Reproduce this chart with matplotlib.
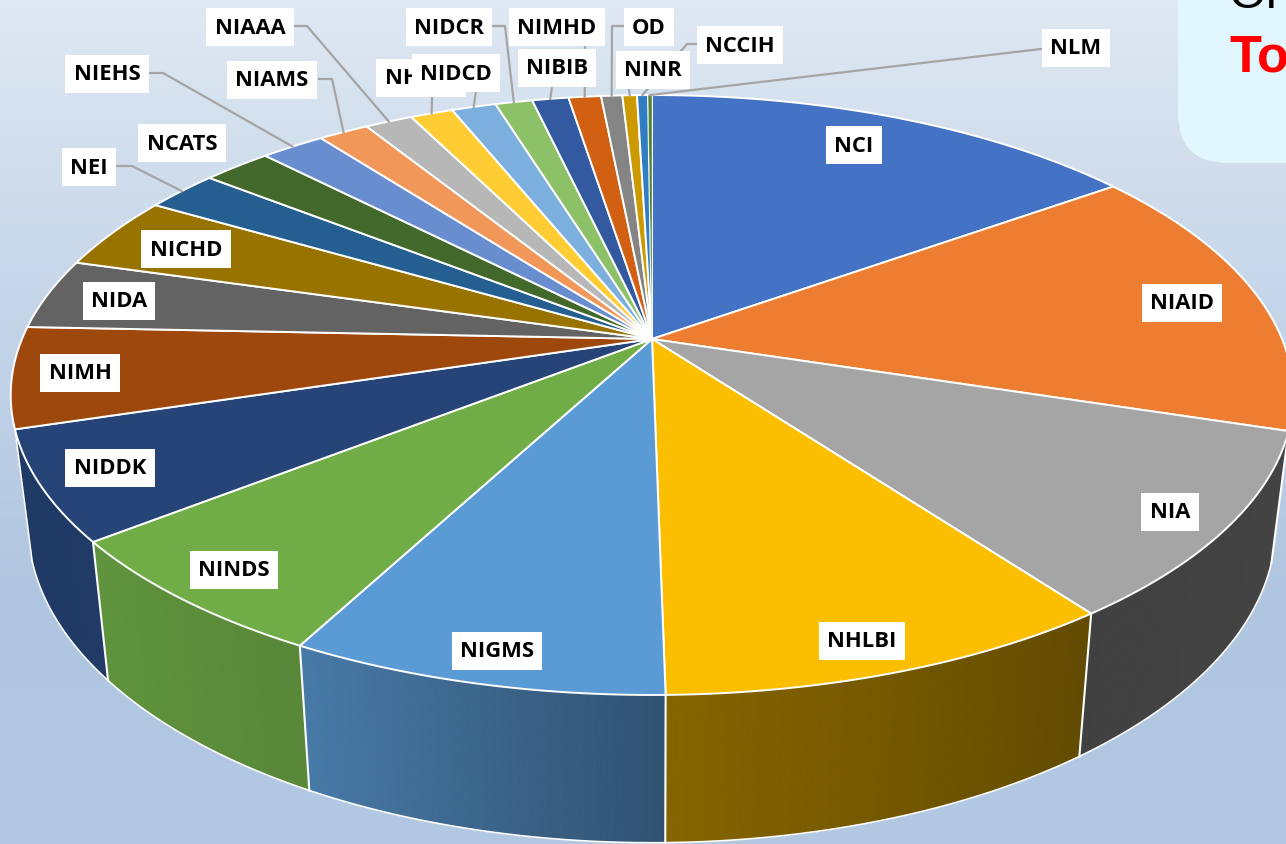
import numpy as np
import matplotlib
matplotlib.use("Agg")
import matplotlib.pyplot as plt
from matplotlib.collections import PolyCollection
from matplotlib.colors import to_rgb
from matplotlib.patches import FancyBboxPatch

# share of the budget per institute, percent
institutes = ["NCI", "NIAID", "NIA", "NHLBI", "NIGMS", "NINDS", "NIDDK", "NIMH", "NIDA", "NICHD",
              "NEI", "NCATS", "NIEHS", "NIAMS", "NIAAA", "NHGRI", "NIDCD", "NIDCR", "NIBIB",
              "NIMHD", "OD", "NINR", "NCCIH", "NLM"]
shares = [15.08, 14.78, 10.06, 9.81, 8.01, 6.63, 5.88, 5.43, 3.81, 3.97,
          2.22, 2.08, 1.94, 1.52, 1.44, 1.29, 1.34, 1.12, 1.10,
          0.98, 0.64, 0.44, 0.33, 0.12]
colors = ["#4472C4", "#ED7D31", "#A5A5A5", "#FBBE00", "#5B9BD5", "#70AD47", "#264478", "#9E480E",
          "#636363", "#997300", "#255E91", "#43682B", "#698ED0", "#F1975A", "#B7B7B7", "#FFCD33",
          "#7CAFDD", "#8CC168", "#335AA1", "#D26012", "#848484", "#CC9A00", "#307DC2", "#548235"]

# label box centres in pixels, drawing order matters (NIDCD sits on top of NHGRI)
label_x = [854, 1182, 1170, 862, 497, 234, 110, 80, 119, 186,
           89, 182, 107, 272, 250, 421, 456, 449, 557,
           557, 649, 653, 740, 1076]
label_y = [146, 304, 513, 642, 652, 571, 469, 374, 302, 250,
           168, 144, 75, 81, 28, 79, 74, 28, 69,
           28, 28, 71, 46, 49]

# leader lines from a label to the rim
leaders = {
    "NEI": [(115, 167), (132, 167)],
    "NIEHS": [(148, 74), (163, 74)],
    "NIAMS": [(319, 80), (332, 80)],
    "NIAAA": [(295, 27), (307, 27)],
    "NHGRI": [(432, 99)],
    "NIDCD": [(476, 92)],
    "NIDCR": [(493, 27), (505, 27)],
    "NIBIB": [(552, 88)],
    "NIMHD": [(585, 46)],
    "OD": [(624, 27), (612, 27)],
    "NINR": [(629, 90)],
    "NCCIH": [(698, 45), (687, 45)],
    "NLM": [(1041, 50)],
}

W, H = 1286, 845
CX, CY = 652, 340
RX, RY, PERSP = 630, 289.5, 0.1867


def rim(theta):
    # clockwise degrees from the top, perspective projection of the pie disc
    t = np.radians(theta)
    w = 1 + PERSP * np.cos(t)
    return CX + RX * np.sin(t) / w, CY - RY * np.cos(t) / w


def floor(x, y):
    # same point on the lower edge of the pie wall
    return CX + 0.973 * (np.asarray(x) - CX), 1.06 * np.asarray(y) + 106


def wall_shade(theta):
    return np.interp(theta, [108, 144, 179, 207, 231, 272], [0.41, 0.39, 0.53, 0.78, 0.85, 0.85])


plt.rcParams["font.family"] = ["Open Sans", "DejaVu Sans"]
fig = plt.figure(figsize=(W / 100, H / 100), dpi=100)
ax = fig.add_axes([0, 0, 1, 1])

# background
stops = np.array([to_rgb(c) for c in ["#E0E9F4", "#D0DDEC", "#BFD1E7", "#B0C5E0", "#B3C8E2"]])
ys = np.arange(H)
bg = np.stack([np.interp(ys, [0, 170, 400, 600, 845], stops[:, i]) for i in range(3)], axis=1)
ax.imshow(bg[:, None, :], extent=[0, W, H, 0], aspect="auto", zorder=0)

# text box in the corner
ax.add_patch(FancyBboxPatch((1178, -100), 200, 264, boxstyle="round,pad=0,rounding_size=50",
                            fc="#E1F6FD", ec="none", zorder=1))
ax.text(1229, 8, "Or", family="Liberation Sans", fontsize=35, color="black", va="baseline", zorder=2)
ax.text(1229, 72, "To", family="Liberation Sans", fontsize=37.5, fontweight="bold", color="#FF0000",
        va="baseline", zorder=2)

edges = np.concatenate([[0], np.cumsum(shares)]) / sum(shares) * 360

# pie wall, thin strips so the shading can run along it (only NIA to NIDDK face the viewer)
for i in range(institutes.index("NIA"), institutes.index("NIMH")):
    a0, a1 = edges[i], edges[i + 1]
    th = np.linspace(a0, a1, int((a1 - a0) * 4) + 2)
    tx, ty = rim(th)
    bx, by = floor(tx, ty)
    quads = []
    fills = []
    for j in range(len(th) - 1):
        quads.append([(tx[j], ty[j]), (tx[j + 1], ty[j + 1]), (bx[j + 1], by[j + 1]), (bx[j], by[j])])
        fills.append(np.array(to_rgb(colors[i])) * wall_shade((th[j] + th[j + 1]) / 2))
    ax.add_collection(PolyCollection(quads, facecolors=fills, edgecolors=fills, linewidths=0.6, zorder=3))
    ax.plot(bx, by, color="white", lw=1.2, zorder=4)
    ax.plot([tx[0], bx[0]], [ty[0], by[0]], color="white", lw=1.5, zorder=4)
    if i == institutes.index("NIDDK"):
        ax.plot([tx[-1], bx[-1]], [ty[-1], by[-1]], color="white", lw=1.2, zorder=4)

# top of the pie
for i, col in enumerate(colors):
    th = np.linspace(edges[i], edges[i + 1], max(int((edges[i + 1] - edges[i]) * 4), 2) + 1)
    tx, ty = rim(th)
    lw = 1.4 if shares[i] > 0.2 else 0.3
    ax.fill(np.r_[CX, tx], np.r_[CY, ty], facecolor=col, edgecolor="white", lw=lw, zorder=5,
            joinstyle="round")

# leaders, then labels in order
for i, name in enumerate(institutes):
    mid = (edges[i] + edges[i + 1]) / 2
    if name in leaders:
        rx, ry = rim(mid)
        pts = leaders[name] + [(rx, ry)]
        ax.plot([p[0] for p in pts], [p[1] for p in pts], color="#A5A5A5", lw=1.6, zorder=6)
    ax.text(label_x[i], label_y[i], name, fontsize=15.8, fontweight="bold", color="black",
            ha="center", va="center", zorder=7 + i * 0.01,
            bbox=dict(boxstyle="square,pad=0.38", fc="white", ec="none"))

ax.set_xlim(0, W)
ax.set_ylim(H, 0)
ax.axis("off")
fig.savefig("out.png", dpi=100)
plt.close(fig)
